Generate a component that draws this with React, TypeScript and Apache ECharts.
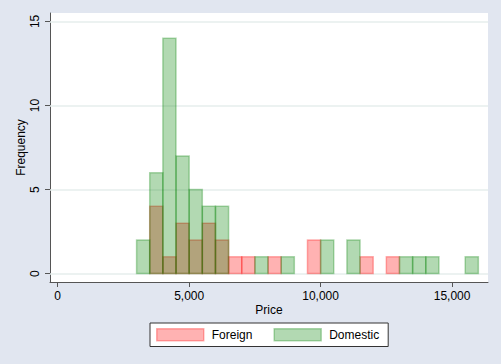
import React, { useEffect, useRef } from "react";
import * as echarts from "echarts";

const binWidth = 500;
const foreignStarts = [3500, 4000, 4500, 5000, 5500, 6000, 6500, 7000, 8000, 9500, 11500, 12500];
const foreignCounts = [4, 1, 3, 2, 3, 2, 1, 1, 1, 2, 1, 1];
const domesticStarts = [3000, 3500, 4000, 4500, 5000, 5500, 6000, 7500, 8500, 10000, 11000, 13000, 13500, 14000, 15500];
const domesticCounts = [2, 6, 14, 7, 5, 4, 4, 1, 1, 2, 2, 1, 1, 1, 1];
const xTicks = [0, 5000, 10000, 15000];
const yTicks = [0, 5, 10, 15];

const FONT = "'Liberation Sans', Arial, sans-serif";
const RED = "rgba(255,0,0,0.3)";
const GREEN = "rgba(0,128,0,0.3)";

function histSeries(name: string, starts: number[], counts: number[], color: string) {
  return {
    name,
    type: "custom",
    z: 3,
    itemStyle: { color, borderColor: color, borderWidth: 1.5 },
    encode: { x: [0, 1], y: 2 },
    data: starts.map((s, i) => [s, s + binWidth, counts[i]]),
    renderItem: (params: any, api: any) => {
      const p0 = api.coord([api.value(0), api.value(2)]);
      const p1 = api.coord([api.value(1), 0]);
      return {
        type: "rect",
        shape: { x: p0[0], y: p0[1], width: p1[0] - p0[0], height: p1[1] - p0[1] },
        style: { fill: color, stroke: color, lineWidth: 1.5 },
      };
    },
  };
}

export default function App() {
  const ref = useRef<HTMLDivElement>(null);
  useEffect(() => {
    const chart = echarts.init(ref.current!, null, { renderer: "svg" });
    chart.setOption({
      animation: false,
      backgroundColor: "#e1e6f0",
      textStyle: { fontFamily: FONT },
      grid: {
        left: 50,
        top: 13,
        width: 438,
        height: 269,
        show: true,
        backgroundColor: "#ffffff",
        borderWidth: 0,
      },
      xAxis: {
        type: "value",
        min: -293,
        max: 16367,
        name: "Price",
        nameLocation: "middle",
        nameGap: 22,
        nameMoveOverlap: false,
        nameTextStyle: { fontSize: 12, color: "#000", fontFamily: FONT },
        axisLine: { show: true, onZero: false, lineStyle: { color: "#555", width: 1 } },
        axisTick: { show: true, length: 5, customValues: xTicks, lineStyle: { color: "#555" } },
        axisLabel: {
          customValues: xTicks,
          margin: 8,
          fontSize: 12,
          color: "#000",
          fontFamily: FONT,
          formatter: (v: number) => v.toLocaleString("en-US"),
        },
        splitLine: { show: false },
      },
      yAxis: {
        type: "value",
        min: -0.5,
        max: 15.5,
        name: "Frequency",
        nameLocation: "middle",
        nameGap: 23,
        nameMoveOverlap: false,
        nameRotate: 90,
        nameTextStyle: { fontSize: 12, color: "#000", fontFamily: FONT },
        axisLine: { show: true, onZero: false, lineStyle: { color: "#555", width: 1 } },
        axisTick: { show: true, length: 5, customValues: yTicks, lineStyle: { color: "#555" } },
        axisLabel: {
          customValues: yTicks,
          rotate: 90,
          margin: 9,
          fontSize: 12,
          color: "#000",
          fontFamily: FONT,
        },
        splitLine: { show: false },
      },
      legend: {
        left: 150,
        top: 323,
        itemWidth: 47,
        itemHeight: 12,
        itemGap: 21,
        padding: [5, 9, 5, 6],
        borderColor: "#333",
        borderWidth: 1,
        backgroundColor: "#ffffff",
        borderRadius: 0,
        textStyle: { fontSize: 12, color: "#000", fontFamily: FONT, padding: [0, 0, 0, 3] },
        data: [
          { name: "Foreign", icon: "rect", itemStyle: { color: RED, borderColor: RED, borderWidth: 1.5 } },
          { name: "Domestic", icon: "rect", itemStyle: { color: GREEN, borderColor: GREEN, borderWidth: 1.5 } },
        ],
      },
      series: [
        {
          name: "grid",
          type: "line",
          data: [],
          z: 1,
          silent: true,
          markLine: {
            z: 1,
            silent: true,
            symbol: "none",
            label: { show: false },
            lineStyle: { color: "#e6eeec", width: 1.5, type: "solid" },
            data: yTicks.map((v) => ({ yAxis: v })),
          },
        },
        histSeries("Foreign", foreignStarts, foreignCounts, RED),
        histSeries("Domestic", domesticStarts, domesticCounts, GREEN),
      ],
    });
    return () => chart.dispose();
  }, []);
  return (
    <div
      ref={ref}
      style={{ position: "fixed", left: 0, top: 0, width: 501, height: 364 }}
    />
  );
}
